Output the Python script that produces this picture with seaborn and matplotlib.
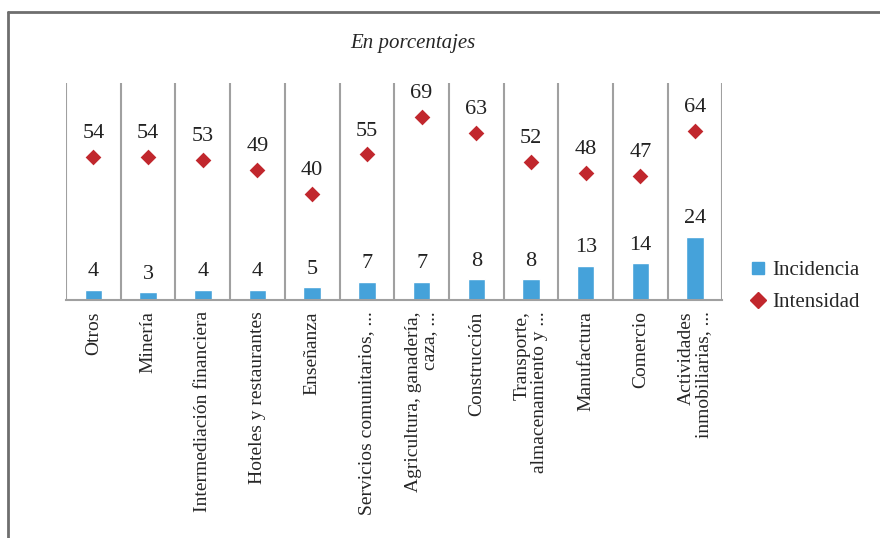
import numpy as np
import pandas as pd
import matplotlib
matplotlib.use("Agg")
import matplotlib.pyplot as plt
import seaborn as sns
from matplotlib.lines import Line2D

# datos
sectores = ["Otros", "Minería", "Intermediación financiera", "Hoteles y restaurantes",
            "Enseñanza", "Servicios comunitarios, ...", "Agricultura, ganadería,\ncaza, ...",
            "Construcción", "Transporte,\nalmacenamiento y ...", "Manufactura", "Comercio",
            "Actividades\ninmobiliarias, ..."]
incidencia = [4, 3, 4, 4, 5, 7, 7, 8, 8, 13, 14, 24]
intensidad = [54, 54, 53, 49, 40, 55, 69, 63, 52, 48, 47, 64]

df = pd.DataFrame({"sector": sectores, "Incidencia": incidencia, "Intensidad": intensidad})

sns.set_theme(style="white")
plt.rcParams["font.family"] = ["Liberation Serif", "DejaVu Serif"]

azul = "#45A2DA"
rojo = "#C1272D"

fig = plt.figure(figsize=(8.8, 5.38), dpi=100)
ax = fig.add_axes([0.075, 0.442, 0.746, 0.404])

sns.barplot(data=df, x="sector", y="Incidencia", color=azul, width=0.32, ax=ax,
            saturation=1)
sns.stripplot(data=df, x="sector", y="Intensidad", color=rojo, marker="D", size=8,
              jitter=False, ax=ax, zorder=3)

ax.set_ylim(0, 82)
ax.set_xlim(-0.5, len(sectores) - 0.5)

# etiquetas de valores
for i, (a, b) in enumerate(zip(incidencia, intensidad)):
    ax.annotate(str(a), (i, a), xytext=(0, 6), textcoords="offset points",
                ha="center", va="bottom", fontsize=16, color="#222222")
    ax.annotate(str(b), (i, b), xytext=(0, 10), textcoords="offset points",
                ha="center", va="bottom", fontsize=16, color="#222222")

# separadores verticales
for k in np.arange(-0.5, len(sectores), 1.0):
    ax.axvline(k, color="#A0A0A0", lw=1.5, zorder=0)

for s in ["top", "right", "left"]:
    ax.spines[s].set_visible(False)
ax.spines["bottom"].set_color("#A0A0A0")
ax.spines["bottom"].set_linewidth(1.5)
ax.set_yticks([])
ax.set_xlabel("")
ax.set_ylabel("")
ax.tick_params(axis="x", length=0, pad=8)
ax.set_xticks(range(len(sectores)))
ax.set_xticklabels(sectores, rotation=90, fontsize=14, va="top", ha="center",
                   linespacing=1.0, multialignment="right")

ax.set_title("En porcentajes", fontsize=15, style="italic", x=0.529, y=1.12)

handles = [Line2D([], [], marker="s", ls="none", color=azul, markersize=8, label="Incidencia"),
           Line2D([], [], marker="D", ls="none", color=rojo, markersize=8, label="Intensidad")]
fig.legend(handles=handles, loc="center left", bbox_to_anchor=(0.826, 0.468), frameon=False,
           fontsize=15, handletextpad=0.1, labelspacing=0.6, handlelength=1.2)

# marco del cuadro
fig.add_artist(Line2D([0.009, 1.0], [0.978, 0.978], transform=fig.transFigure,
                      color="#6E6E6E", lw=2))
fig.add_artist(Line2D([0.009, 0.009], [0.0, 0.978], transform=fig.transFigure,
                      color="#6E6E6E", lw=2))

fig.savefig("out.png", dpi=100)
